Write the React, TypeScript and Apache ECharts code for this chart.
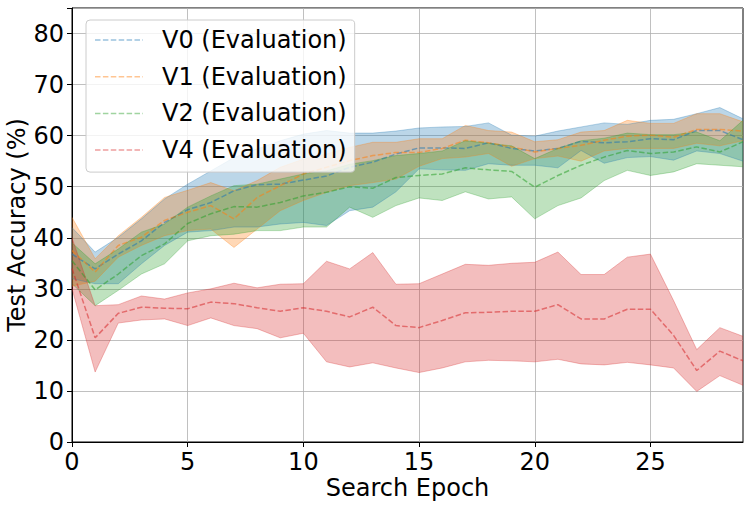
import React, { useEffect, useRef } from "react";
import * as echarts from "echarts";

const epochs = [0, 1, 2, 3, 4, 5, 6, 7, 8, 9, 10, 11, 12, 13, 14, 15, 16, 17, 18, 19, 20, 21, 22, 23, 24, 25, 26, 27, 28, 29];

const v0Mean = [36.8, 33.9, 36.8, 39.4, 43.0, 45.5, 46.9, 49.2, 50.4, 50.5, 51.3, 52.1, 53.8, 54.8, 56.4, 57.6, 57.6, 57.5, 58.6, 57.5, 57.0, 57.5, 58.9, 58.6, 58.8, 59.4, 59.2, 61.0, 61.0, 59.2];
const v0Upper = [42, 37.2, 40.1, 43.7, 47.6, 50.5, 53.1, 55.7, 57.4, 59.0, 60.3, 61.0, 60.5, 60.5, 60.9, 61.5, 61.7, 61.8, 62.5, 60.1, 59.9, 60.9, 61.7, 62.5, 62.2, 63.0, 63.2, 64.3, 65.5, 63.3];
const v0Lower = [32, 31, 31, 34.9, 38.5, 41.1, 41.4, 42.1, 42.1, 42.7, 43.0, 42.4, 45.3, 46.0, 49.0, 53.5, 53.3, 53.2, 54.5, 54.2, 54.2, 53.7, 57.1, 54.6, 55.7, 55.9, 55.2, 57.0, 56.5, 55.0];

const v1Mean = [37.5, 33.3, 38.5, 40.1, 43.4, 45.0, 46.3, 43.7, 47.9, 50.2, 52.5, 53.8, 55.1, 56.1, 56.7, 56.7, 57.5, 59.1, 58.6, 57.8, 56.8, 57.5, 58.1, 59.1, 59.9, 60.1, 59.7, 61.2, 61.2, 60.9];
const v1Upper = [44, 35.9, 40.4, 44.0, 47.9, 49.3, 50.8, 49.2, 51.2, 53.8, 55.4, 56.4, 57.7, 58.7, 58.7, 59.4, 59.4, 62.0, 61.0, 60.7, 58.8, 59.2, 60.7, 61.0, 63.0, 62.4, 62.4, 64.3, 64.3, 62.7];
const v1Lower = [30.5, 31.5, 36.2, 38.5, 40.4, 41.4, 41.7, 38.1, 41.7, 45.3, 47.3, 48.9, 50.2, 50.8, 51.5, 54, 55.5, 55.8, 56.5, 54, 55.5, 56, 55, 57, 57.5, 57.5, 57.5, 58.5, 58, 59];

const v2Mean = [35.5, 29.8, 32.9, 36.5, 38.8, 42.8, 44.7, 46.1, 46.0, 46.9, 48.2, 48.9, 50.0, 49.7, 51.8, 52.2, 52.5, 53.7, 53.3, 53.0, 49.9, 52.2, 54.2, 55.8, 57.1, 56.5, 56.8, 57.8, 56.8, 58.8];
const v2Upper = [39, 34.9, 37.8, 41.1, 42.7, 46.0, 48.2, 50.2, 50.5, 51.5, 52.5, 53.1, 54.4, 55.1, 56.1, 56.5, 57, 59, 58.5, 58, 55.5, 57.5, 59, 59.5, 60.5, 60.2, 60.2, 60.7, 59, 63];
const v2Lower = [31, 26.7, 29.7, 32.9, 34.9, 39.4, 40.4, 40.7, 41.4, 41.4, 42.1, 42.1, 46.0, 44.0, 46.3, 47.8, 47.3, 49.0, 47.6, 48.0, 43.7, 46.3, 47.8, 51.2, 53.2, 52.2, 52.9, 54.5, 54.2, 53.9];

const v4Mean = [34, 20.4, 25.2, 26.4, 26.2, 26.1, 27.4, 27.1, 26.3, 25.6, 26.3, 25.6, 24.5, 26.4, 22.8, 22.4, 23.8, 25.3, 25.4, 25.6, 25.6, 26.9, 24.1, 24.1, 26.0, 26.0, 20.9, 14.0, 17.8, 15.9];
const v4Upper = [40, 26.7, 26.9, 28.6, 28.0, 29.2, 30.0, 31.1, 30.2, 30.9, 31.0, 35.4, 33.9, 37.1, 30.9, 31.0, 32.9, 34.8, 34.6, 35.0, 35.2, 37.2, 32.8, 32.8, 36.2, 36.8, 27.7, 18.1, 22.4, 20.7];
const v4Lower = [30, 13.7, 23.3, 23.9, 24.1, 22.8, 24.3, 22.8, 22.2, 20.4, 21.3, 15.7, 14.7, 15.5, 14.5, 13.6, 14.5, 15.7, 16.0, 15.9, 15.7, 16.2, 15.3, 15.1, 15.6, 15.1, 14.5, 9.9, 13.0, 11.1];

const seriesNames = ["V0 (Evaluation)", "V1 (Evaluation)", "V2 (Evaluation)", "V4 (Evaluation)"];
const yTicks = [0, 10, 20, 30, 40, 50, 60, 70, 80];

const colors = ["#1f77b4", "#ff7f0e", "#2ca02c", "#d62728"];
const FONT = "DejaVu Sans";
const DASH_ICON =
  "path://M0,0h5.5v1.5h-5.5z M7.9,0h5.5v1.5h-5.5z M15.8,0h5.5v1.5h-5.5z M23.7,0h5.5v1.5h-5.5z M31.6,0h5.5v1.5h-5.5z M39.5,0h5.5v1.5h-5.5z M47.4,0h0.6v1.5h-0.6z";

export default function App() {
  const ref = useRef<HTMLDivElement>(null);
  useEffect(() => {
    if (!ref.current) return;
    const chart = echarts.init(ref.current, undefined, { renderer: "svg" });
    const groups = [
      [v0Mean, v0Upper, v0Lower],
      [v1Mean, v1Upper, v1Lower],
      [v2Mean, v2Upper, v2Lower],
      [v4Mean, v4Upper, v4Lower],
    ];
    const series: any[] = [];
    groups.forEach(([mean, upper, lower], i) => {
      const c = colors[i];
      series.push({
        type: "line",
        name: "lo" + i,
        data: lower,
        stack: "band" + i,
        symbol: "none",
        silent: true,
        lineStyle: { width: 1, color: c, opacity: 0.3 },
      });
      series.push({
        type: "line",
        name: "band" + i,
        data: upper.map((u, k) => u - lower[k]),
        stack: "band" + i,
        symbol: "none",
        silent: true,
        lineStyle: { width: 1, color: c, opacity: 0.3 },
        areaStyle: { color: c, opacity: 0.3 },
      });
      series.push({
        type: "line",
        name: seriesNames[i],
        data: mean,
        symbol: "none",
        silent: true,
        itemStyle: { color: c },
        lineStyle: { width: 1.5, color: c, opacity: 0.55, type: [5.5, 2.4] },
      });
    });
    const every5 = (idx: number) => idx % 5 === 0;
    chart.setOption({
      animation: false,
      grid: {
        left: 72,
        right: 6,
        top: 8,
        bottom: 66,
        outerBoundsMode: "none",
        containLabel: false,
        show: true,
        borderColor: "#000",
        borderWidth: 1,
        backgroundColor: "transparent",
      },
      legend: {
        data: seriesNames.map((n, i) => ({
          name: n,
          icon: DASH_ICON,
          itemStyle: { color: colors[i], opacity: 0.45 },
        })),
        orient: "vertical",
        left: 86,
        top: 20,
        padding: [6, 8, 8, 9],
        itemWidth: 48,
        itemHeight: 1.5,
        itemGap: 8.7,
        backgroundColor: "rgba(255,255,255,0.8)",
        borderColor: "#cccccc",
        borderWidth: 1,
        borderRadius: 4,
        textStyle: { fontFamily: FONT, fontSize: 24, color: "#000", lineHeight: 28, padding: [0, 0, 0, 14] },
      },
      xAxis: {
        type: "category",
        data: epochs,
        boundaryGap: false,
        name: "Search Epoch",
        nameLocation: "middle",
        nameMoveOverlap: false,
        nameGap: 34,
        nameTextStyle: { fontFamily: FONT, fontSize: 24, color: "#000" },
        axisLine: { show: true, lineStyle: { color: "#000", width: 1 } },
        axisTick: { show: true, inside: false, length: 5, interval: every5, lineStyle: { color: "#000" } },
        axisLabel: { interval: every5, margin: 8, fontFamily: FONT, fontSize: 24, color: "#000" },
        splitLine: { show: true, interval: every5, lineStyle: { color: "#b0b0b0", width: 0.8 } },
      },
      yAxis: {
        type: "value",
        min: 0,
        max: 85,
        interval: 10,
        name: "Test Accuracy (%)",
        nameLocation: "middle",
        nameMoveOverlap: false,
        nameGap: 43,
        nameTextStyle: { fontFamily: FONT, fontSize: 24, color: "#000" },
        axisLine: { show: true, lineStyle: { color: "#000", width: 1 } },
        axisTick: { show: true, inside: false, length: 5, lineStyle: { color: "#000" } },
        axisLabel: {
          margin: 8,
          fontFamily: FONT,
          fontSize: 24,
          color: "#000",
          formatter: (v: number) => (yTicks.indexOf(v) >= 0 ? String(v) : ""),
        },
        splitLine: { show: true, lineStyle: { color: "#b0b0b0", width: 0.8 } },
      },
      series,
    });
    return () => chart.dispose();
  }, []);
  return <div ref={ref} style={{ width: 749, height: 508, position: "absolute", left: 0, top: 0 }} />;
}
